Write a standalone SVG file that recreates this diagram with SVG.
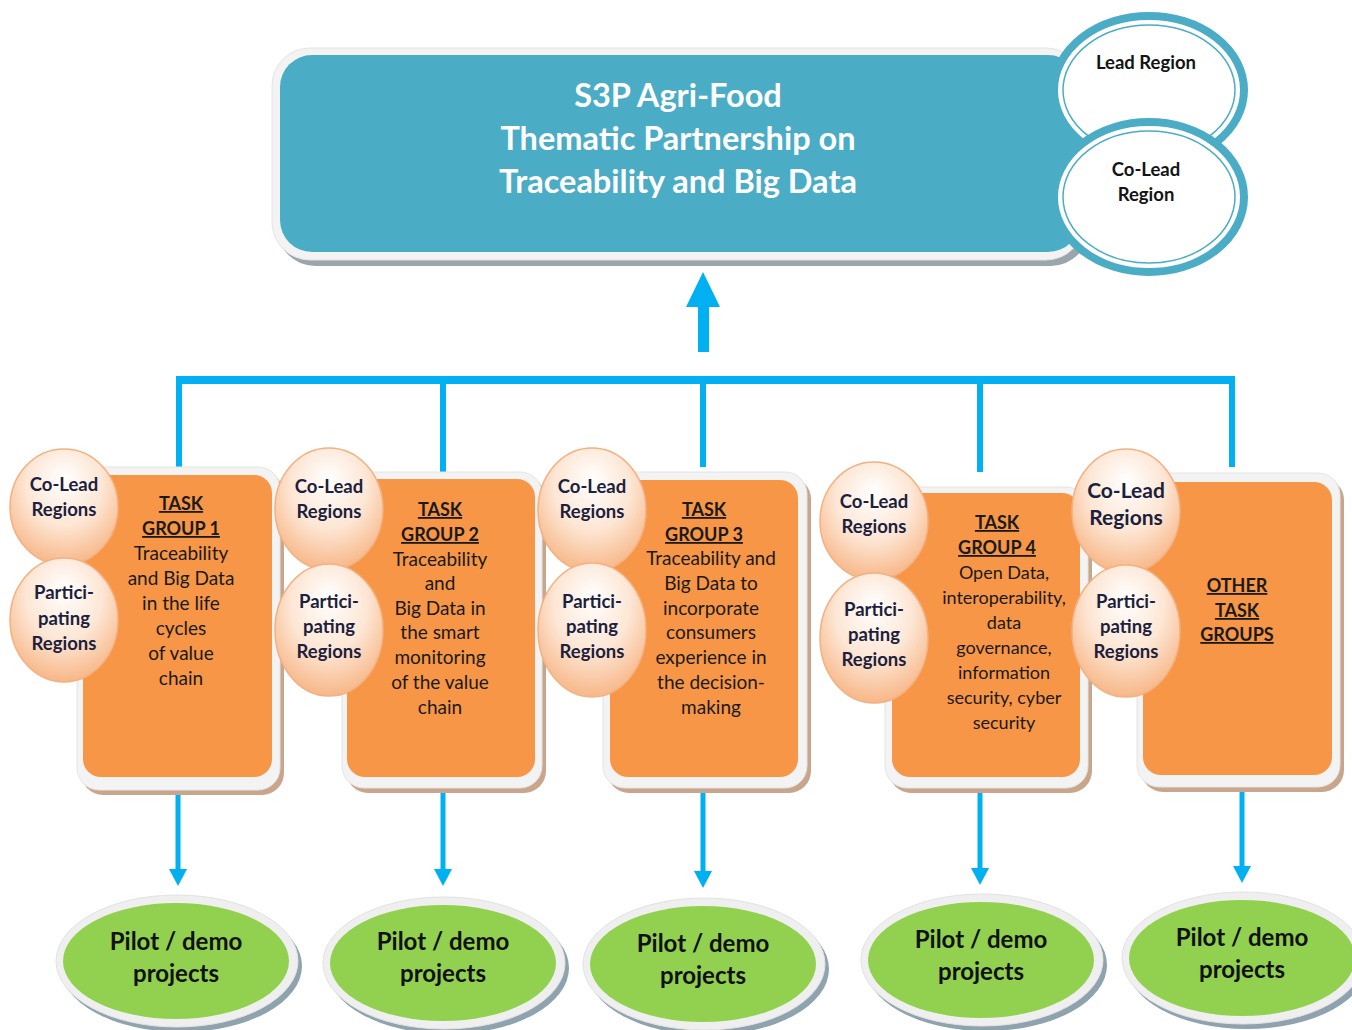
<svg xmlns="http://www.w3.org/2000/svg" width="1352" height="1030" viewBox="0 0 1352 1030">
<style>
.t{font-family:Lato,"Open Sans","Liberation Sans",sans-serif;text-anchor:middle}
.title{fill:#ffffff;font-weight:bold;font-size:32.5px}
.reg{fill:#141414;font-size:18.5px;font-weight:bold}
.bub{fill:#1c1f3d;font-size:18.5px;font-weight:bold}
.big{font-size:21px}
.tg{fill:#1a1a1a;font-size:19px}
.tg4{font-size:18px}
.tgh{fill:#1a1a1a;font-size:18px;font-weight:bold;text-decoration:underline}
.pil{fill:#111111;font-size:24px;font-weight:bold}
.frame{fill:#f3f3f3;stroke:#e4e4e4;stroke-width:1}
.tshadow{fill:#c9a58b}
.orange{fill:#F79646}
.bubble{fill:url(#bg);stroke:#f3b182;stroke-width:1.5}
.conn{stroke:#00B0F0;fill:none}
.head{fill:#00B0F0}
.ring{fill:#ffffff;stroke:#4BACC6;stroke-width:8}
.ring2{fill:none;stroke:#4BACC6;stroke-width:1.5}
.green{fill:#92D050}
.gframe{fill:#efefef;stroke:#e2e2e2}
.gshadow{fill:#8ea3ad}
</style>
<defs>
<radialGradient id="bg" cx="50%" cy="35%" r="65%" fx="50%" fy="25%">
<stop offset="0" stop-color="#ffffff"/>
<stop offset="0.55" stop-color="#fde6d4"/>
<stop offset="1" stop-color="#f7b788"/>
</radialGradient>
</defs>
<rect width="1352" height="1030" fill="#ffffff"/>

<g id="main">
<rect x="277" y="56" width="812" height="210" rx="38" fill="#9aa6ab"/>
<rect x="272" y="48" width="812" height="212" rx="38" class="frame"/>
<rect x="280" y="55" width="800" height="197" rx="32" fill="#4BACC6"/>
<text class="t title" x="678" y="107">S3P Agri-Food</text>
<text class="t title" x="678" y="150">Thematic Partnership on</text>
<text class="t title" x="678" y="193">Traceability and Big Data</text>
</g>

<g id="lead-region">
<ellipse cx="1149" cy="90" rx="95" ry="74" class="ring"/>
<ellipse cx="1149" cy="90" rx="86" ry="65" class="ring2"/>
<text class="t reg" x="1146" y="69">Lead Region</text>
</g>
<g id="colead-region">
<ellipse cx="1149" cy="197" rx="95" ry="75" class="ring"/>
<ellipse cx="1149" cy="197" rx="86" ry="66" class="ring2"/>
<text class="t reg" x="1146" y="176">Co-Lead</text>
<text class="t reg" x="1146" y="201">Region</text>
</g>

<g id="connectors">
<rect x="698" y="300" width="11" height="52" class="head"/>
<polygon points="686,307 703,272 720,307" class="head"/>
<line x1="176" y1="380" x2="1235" y2="380" class="conn" stroke-width="8"/>
<line x1="179" y1="376" x2="179" y2="467" class="conn" stroke-width="6"/>
<line x1="443" y1="380" x2="443" y2="472" class="conn" stroke-width="6"/>
<line x1="703" y1="376" x2="703" y2="467" class="conn" stroke-width="6"/>
<line x1="980" y1="380" x2="980" y2="472" class="conn" stroke-width="6"/>
<line x1="1232" y1="376" x2="1232" y2="467" class="conn" stroke-width="6"/>
<line x1="178" y1="790" x2="178" y2="872" class="conn" stroke-width="5"/>
<polygon points="169,869 187,869 178,886" class="head"/>
<line x1="443" y1="788" x2="443" y2="872" class="conn" stroke-width="5"/>
<polygon points="434,869 452,869 443,886" class="head"/>
<line x1="703" y1="788" x2="703" y2="874" class="conn" stroke-width="5"/>
<polygon points="694,871 712,871 703,888" class="head"/>
<line x1="980" y1="788" x2="980" y2="871" class="conn" stroke-width="5"/>
<polygon points="971,868 989,868 980,885" class="head"/>
<line x1="1242" y1="787" x2="1242" y2="869" class="conn" stroke-width="5"/>
<polygon points="1233,866 1251,866 1242,883" class="head"/>
</g>

<g id="tg1">
<rect x="81" y="472" width="203" height="323" rx="22" class="tshadow"/>
<rect x="77" y="467" width="203" height="323" rx="22" class="frame"/>
<rect x="83" y="475" width="189" height="302" rx="18" class="orange"/>
<text class="t tgh" x="181" y="510">TASK</text>
<text class="t tgh" x="181" y="535">GROUP 1</text>
<text class="t tg" x="181" y="560">Traceability</text>
<text class="t tg" x="181" y="585">and Big Data</text>
<text class="t tg" x="181" y="610">in the life</text>
<text class="t tg" x="181" y="635">cycles</text>
<text class="t tg" x="181" y="660">of value</text>
<text class="t tg" x="181" y="685">chain</text>
<ellipse cx="64" cy="507" rx="54" ry="58" class="bubble"/>
<text class="t bub" x="64" y="491">Co-Lead</text>
<text class="t bub" x="64" y="516">Regions</text>
<ellipse cx="64" cy="620" rx="54" ry="62" class="bubble"/>
<text class="t bub" x="64" y="599">Partici-</text>
<text class="t bub" x="64" y="625">pating</text>
<text class="t bub" x="64" y="650">Regions</text>
</g>

<g id="tg2">
<rect x="346" y="477" width="200" height="316" rx="22" class="tshadow"/>
<rect x="342" y="472" width="200" height="316" rx="22" class="frame"/>
<rect x="347" y="479" width="188" height="298" rx="18" class="orange"/>
<text class="t tgh" x="440" y="516">TASK</text>
<text class="t tgh" x="440" y="541">GROUP 2</text>
<text class="t tg" x="440" y="566">Traceability</text>
<text class="t tg" x="440" y="590">and</text>
<text class="t tg" x="440" y="615">Big Data in</text>
<text class="t tg" x="440" y="639">the smart</text>
<text class="t tg" x="440" y="664">monitoring</text>
<text class="t tg" x="440" y="689">of the value</text>
<text class="t tg" x="440" y="714">chain</text>
<ellipse cx="329" cy="509" rx="54" ry="61" class="bubble"/>
<text class="t bub" x="329" y="493">Co-Lead</text>
<text class="t bub" x="329" y="518">Regions</text>
<ellipse cx="329" cy="630" rx="54" ry="66" class="bubble"/>
<text class="t bub" x="329" y="608">Partici-</text>
<text class="t bub" x="329" y="633">pating</text>
<text class="t bub" x="329" y="658">Regions</text>
</g>

<g id="tg3">
<rect x="607" y="477" width="204" height="316" rx="22" class="tshadow"/>
<rect x="603" y="472" width="204" height="316" rx="22" class="frame"/>
<rect x="610" y="480" width="188" height="297" rx="18" class="orange"/>
<text class="t tgh" x="704" y="516">TASK</text>
<text class="t tgh" x="704" y="541">GROUP 3</text>
<text class="t tg" x="711" y="565">Traceability and</text>
<text class="t tg" x="711" y="590">Big Data to</text>
<text class="t tg" x="711" y="615">incorporate</text>
<text class="t tg" x="711" y="639">consumers</text>
<text class="t tg" x="711" y="664">experience in</text>
<text class="t tg" x="711" y="689">the decision-</text>
<text class="t tg" x="711" y="714">making</text>
<ellipse cx="592" cy="510" rx="54" ry="62" class="bubble"/>
<text class="t bub" x="592" y="493">Co-Lead</text>
<text class="t bub" x="592" y="518">Regions</text>
<ellipse cx="592" cy="630" rx="54" ry="67" class="bubble"/>
<text class="t bub" x="592" y="608">Partici-</text>
<text class="t bub" x="592" y="633">pating</text>
<text class="t bub" x="592" y="658">Regions</text>
</g>

<g id="tg4">
<rect x="889" y="492" width="203" height="301" rx="22" class="tshadow"/>
<rect x="885" y="487" width="203" height="301" rx="22" class="frame"/>
<rect x="892" y="493" width="188" height="284" rx="18" class="orange"/>
<text class="t tgh" x="997" y="529">TASK</text>
<text class="t tgh" x="997" y="554">GROUP 4</text>
<text class="t tg tg4" x="1004" y="579">Open Data,</text>
<text class="t tg tg4" x="1004" y="604">interoperability,</text>
<text class="t tg tg4" x="1004" y="629">data</text>
<text class="t tg tg4" x="1004" y="654">governance,</text>
<text class="t tg tg4" x="1004" y="679">information</text>
<text class="t tg tg4" x="1004" y="704">security, cyber</text>
<text class="t tg tg4" x="1004" y="729">security</text>
<ellipse cx="874" cy="521" rx="54" ry="59" class="bubble"/>
<text class="t bub" x="874" y="508">Co-Lead</text>
<text class="t bub" x="874" y="533">Regions</text>
<ellipse cx="874" cy="638" rx="54" ry="65" class="bubble"/>
<text class="t bub" x="874" y="616">Partici-</text>
<text class="t bub" x="874" y="641">pating</text>
<text class="t bub" x="874" y="666">Regions</text>
</g>

<g id="other">
<rect x="1141" y="478" width="203" height="314" rx="22" class="tshadow"/>
<rect x="1137" y="473" width="203" height="314" rx="22" class="frame"/>
<rect x="1143" y="482" width="189" height="293" rx="18" class="orange"/>
<text class="t tgh" x="1237" y="592">OTHER</text>
<text class="t tgh" x="1237" y="617">TASK</text>
<text class="t tgh" x="1237" y="641">GROUPS</text>
<ellipse cx="1126" cy="511" rx="54" ry="62" class="bubble"/>
<text class="t bub big" x="1126" y="498">Co-Lead</text>
<text class="t bub big" x="1126" y="525">Regions</text>
<ellipse cx="1126" cy="631" rx="54" ry="66" class="bubble"/>
<text class="t bub" x="1126" y="608">Partici-</text>
<text class="t bub" x="1126" y="633">pating</text>
<text class="t bub" x="1126" y="658">Regions</text>
</g>

<g id="pilot1">
<ellipse cx="181" cy="966" rx="121" ry="66" class="gshadow"/>
<ellipse cx="177" cy="961" rx="121" ry="66" class="gframe"/>
<ellipse cx="176" cy="961" rx="113" ry="58" class="green"/>
<text class="t pil" x="176" y="950">Pilot / demo</text>
<text class="t pil" x="176" y="982">projects</text>
</g>
<g id="pilot2">
<ellipse cx="448" cy="968" rx="121" ry="66" class="gshadow"/>
<ellipse cx="444" cy="963" rx="121" ry="66" class="gframe"/>
<ellipse cx="443" cy="963" rx="113" ry="58" class="green"/>
<text class="t pil" x="443" y="950">Pilot / demo</text>
<text class="t pil" x="443" y="982">projects</text>
</g>
<g id="pilot3">
<ellipse cx="708" cy="969" rx="121" ry="66" class="gshadow"/>
<ellipse cx="704" cy="964" rx="121" ry="66" class="gframe"/>
<ellipse cx="703" cy="964" rx="113" ry="58" class="green"/>
<text class="t pil" x="703" y="952">Pilot / demo</text>
<text class="t pil" x="703" y="984">projects</text>
</g>
<g id="pilot4">
<ellipse cx="986" cy="965" rx="121" ry="66" class="gshadow"/>
<ellipse cx="982" cy="960" rx="121" ry="66" class="gframe"/>
<ellipse cx="981" cy="960" rx="113" ry="58" class="green"/>
<text class="t pil" x="981" y="948">Pilot / demo</text>
<text class="t pil" x="981" y="980">projects</text>
</g>
<g id="pilot5">
<ellipse cx="1247" cy="963" rx="121" ry="66" class="gshadow"/>
<ellipse cx="1243" cy="958" rx="121" ry="66" class="gframe"/>
<ellipse cx="1242" cy="958" rx="113" ry="58" class="green"/>
<text class="t pil" x="1242" y="946">Pilot / demo</text>
<text class="t pil" x="1242" y="978">projects</text>
</g>
</svg>
